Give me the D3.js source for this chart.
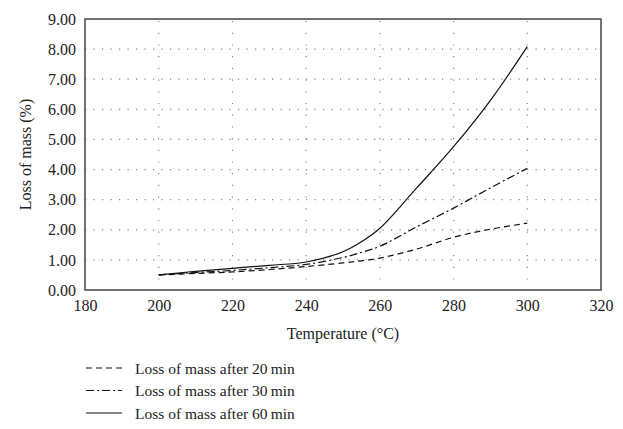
<!DOCTYPE html>
<html>
<head>
<meta charset="utf-8">
<script src="https://cdn.jsdelivr.net/npm/d3@7"></script>
<style>
  body { margin: 0; background: #fff; }
  text { font-family: "Liberation Serif", "DejaVu Serif", serif; fill: #222; }
</style>
</head>
<body>
<svg id="chart"></svg>
<script>
// temperatures (°C) and loss of mass (%)
const temps = [200, 210, 220, 230, 240, 250, 255, 260, 270, 280, 290, 300];
const loss20 = [0.50, 0.55, 0.60, 0.68, 0.78, 0.90, 0.97, 1.06, 1.36, 1.75, 2.02, 2.22];
const loss30 = [0.50, 0.58, 0.65, 0.74, 0.85, 1.08, 1.25, 1.45, 2.10, 2.72, 3.39, 4.04];
const loss60 = [0.50, 0.62, 0.72, 0.82, 0.93, 1.27, 1.60, 2.05, 3.39, 4.76, 6.30, 8.08];
const xTicks = [180, 200, 220, 240, 260, 280, 300, 320];
const yTicks = [0, 1, 2, 3, 4, 5, 6, 7, 8, 9];
const seriesNames = ['Loss of mass after 20\u2009min', 'Loss of mass after 30\u2009min', 'Loss of mass after 60\u2009min'];
const seriesDash = ['6,4', '8,3,2,3', null];

const width = 623, height = 429;
const margin = { top: 19, right: 22, bottom: 139, left: 85 };
const innerW = width - margin.left - margin.right;
const innerH = height - margin.top - margin.bottom;

const svg = d3.select('#chart').attr('width', width).attr('height', height);
const chart = svg.append('g').attr('transform', `translate(${margin.left}, ${margin.top})`);

const xscale = d3.scaleLinear().domain([180, 320]).range([0, innerW]);
const yscale = d3.scaleLinear().domain([0, 9]).range([innerH, 0]);

// grid
chart.append('g').selectAll('line.h')
    .data(yTicks.slice(1, -1))
    .enter().append('line')
    .attr('x1', 0).attr('x2', innerW)
    .attr('y1', d => yscale(d)).attr('y2', d => yscale(d))
    .attr('stroke', '#888').attr('stroke-width', 1.2)
    .attr('stroke-dasharray', '1.2,7.3');

chart.append('g').selectAll('line.v')
    .data(xTicks.slice(1, -1))
    .enter().append('line')
    .attr('x1', d => xscale(d)).attr('x2', d => xscale(d))
    .attr('y1', 2).attr('y2', innerH)
    .attr('stroke', '#888').attr('stroke-width', 1.2)
    .attr('stroke-dasharray', '1.2,10.5');

// axes
const xaxis = d3.axisBottom(xscale).tickValues(xTicks).tickSize(0).tickPadding(10);
const yaxis = d3.axisLeft(yscale).tickValues(yTicks).tickSize(0).tickPadding(9)
    .tickFormat(d3.format('.2f'));

const xg = chart.append('g').attr('transform', `translate(0, ${innerH})`).call(xaxis);
const yg = chart.append('g').call(yaxis);
[xg, yg].forEach(g => {
    g.select('.domain').remove();
    g.selectAll('text').style('font-size', '16px').attr('fill', '#222')
        .style('font-family', '"Liberation Serif", "DejaVu Serif", serif');
});

// frame
chart.append('rect')
    .attr('x', 0).attr('y', 0).attr('width', innerW).attr('height', innerH)
    .attr('fill', 'none').attr('stroke', '#444').attr('stroke-width', 1.5);

// lines
const line = d3.line()
    .x(d => xscale(d[0]))
    .y(d => yscale(d[1]))
    .curve(d3.curveCatmullRom.alpha(0.5));

[loss20, loss30, loss60].forEach((vals, i) => {
    chart.append('path')
        .datum(temps.map((t, j) => [t, vals[j]]))
        .attr('d', line)
        .attr('fill', 'none')
        .attr('stroke', '#111')
        .attr('stroke-width', 1.2)
        .attr('stroke-dasharray', seriesDash[i]);
});

// labels
svg.append('text')
    .style('font-size', '16px')
    .attr('x', margin.left + innerW / 2).attr('y', 339)
    .attr('text-anchor', 'middle')
    .text('Temperature (°C)');

svg.append('text')
    .style('font-size', '16px')
    .attr('transform', `translate(31, ${margin.top + innerH / 2}) rotate(-90)`)
    .attr('text-anchor', 'middle')
    .text('Loss of mass (%)');

// legend
const legend = svg.append('g').attr('transform', 'translate(86, 368)');
seriesNames.forEach((name, i) => {
    const row = legend.append('g').attr('transform', `translate(0, ${i * 22.5})`);
    row.append('line')
        .attr('x1', 0).attr('x2', 36).attr('y1', 0).attr('y2', 0)
        .attr('stroke', '#111').attr('stroke-width', 1.2)
        .attr('stroke-dasharray', seriesDash[i]);
    row.append('text')
        .style('font-size', '15.5px')
        .attr('x', 49).attr('y', 5.5)
        .text(name);
});
</script>
</body>
</html>
